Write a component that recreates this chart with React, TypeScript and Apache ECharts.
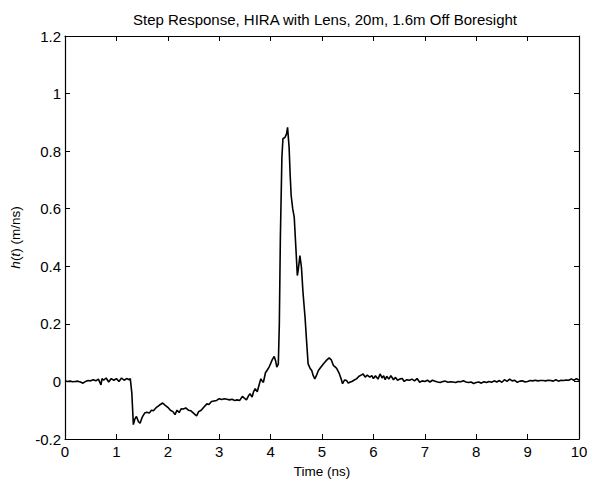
import React, { useEffect, useRef } from "react";
import * as echarts from "echarts";

const title = "Step Response, HIRA with Lens, 20m, 1.6m Off Boresight";
const xName = "Time (ns)";

const timeNs: number[] = [
  0, 0.05, 0.1, 0.15, 0.2, 0.25, 0.3, 0.35, 0.4, 0.45, 0.5, 0.55, 0.6, 0.65, 0.7, 0.72, 0.75, 0.8, 0.85, 0.9, 0.95,
  1.0, 1.05, 1.1, 1.15, 1.2, 1.25, 1.27, 1.3, 1.33, 1.36, 1.39, 1.43, 1.46, 1.5, 1.55, 1.59, 1.64, 1.68, 1.72, 1.78,
  1.84, 1.9, 1.95, 2.0, 2.05, 2.1, 2.14, 2.18, 2.22, 2.26, 2.3, 2.35, 2.4, 2.45, 2.5, 2.56, 2.6, 2.65, 2.7, 2.76,
  2.8, 2.85, 2.9, 2.95, 3.0, 3.05, 3.1, 3.15, 3.2, 3.25, 3.3, 3.35, 3.4, 3.45, 3.5, 3.53, 3.57, 3.6, 3.64, 3.67,
  3.7, 3.74, 3.78, 3.81, 3.84, 3.86, 3.9, 3.93, 3.97, 4.0, 4.03, 4.07, 4.1, 4.12, 4.15, 4.17, 4.19, 4.22, 4.24,
  4.28, 4.31, 4.33, 4.36, 4.38, 4.4, 4.43, 4.46, 4.49, 4.52, 4.54, 4.57, 4.6, 4.63, 4.67, 4.7, 4.73, 4.77, 4.8,
  4.83, 4.86, 4.89, 4.93, 4.98, 5.03, 5.08, 5.14, 5.18, 5.22, 5.26, 5.29, 5.33, 5.37, 5.4, 5.44, 5.48, 5.51, 5.54,
  5.58, 5.62, 5.67, 5.72, 5.76, 5.8, 5.84, 5.88, 5.93, 5.97, 6.0, 6.04, 6.09, 6.13, 6.17, 6.2, 6.23, 6.26, 6.3,
  6.34, 6.39, 6.43, 6.47, 6.52, 6.56, 6.6, 6.65, 6.7, 6.75, 6.8, 6.85, 6.9, 6.95, 7.0, 7.05, 7.1, 7.15, 7.2, 7.25,
  7.3, 7.35, 7.4, 7.45, 7.5, 7.55, 7.6, 7.65, 7.7, 7.75, 7.8, 7.85, 7.9, 7.95, 8.0, 8.05, 8.1, 8.15, 8.2, 8.25,
  8.3, 8.35, 8.4, 8.45, 8.5, 8.55, 8.6, 8.65, 8.7, 8.75, 8.8, 8.85, 8.9, 8.95, 9.0, 9.05, 9.1, 9.15, 9.2, 9.25,
  9.3, 9.35, 9.4, 9.45, 9.5, 9.55, 9.6, 9.65, 9.7, 9.75, 9.8, 9.85, 9.9, 9.95, 10.0,
];

const hValues: number[] = [
  0.002, 0.0, 0.001, -0.001, 0.0, 0.001, -0.002, -0.006, 0.0, 0.003, 0.002, 0.006, 0.002, 0.008, -0.012, 0.01, 0.004, 0.012, -0.002, 0.01, 0.004,
  0.01, 0.0, 0.012, 0.004, 0.01, 0.006, 0.01, -0.04, -0.15, -0.13, -0.122, -0.14, -0.145, -0.125, -0.11, -0.107, -0.11, -0.1, -0.102, -0.09,
  -0.082, -0.075, -0.083, -0.09, -0.1, -0.105, -0.115, -0.1, -0.108, -0.095, -0.096, -0.092, -0.1, -0.102, -0.11, -0.12, -0.105, -0.1, -0.09, -0.078,
  -0.08, -0.07, -0.068, -0.066, -0.06, -0.063, -0.06, -0.062, -0.064, -0.062, -0.066, -0.064, -0.066, -0.052, -0.06, -0.064, -0.05, -0.043, -0.054, -0.035,
  -0.025, -0.036, -0.01, 0.009, 0.0, -0.003, 0.03, 0.038, 0.05, 0.062, 0.075, 0.087, 0.07, 0.05, 0.06, 0.2, 0.5, 0.78, 0.843,
  0.848, 0.86, 0.883, 0.813, 0.72, 0.646, 0.6, 0.57, 0.47, 0.368, 0.39, 0.4375, 0.397, 0.31, 0.223, 0.14, 0.061, 0.045, 0.038,
  0.02, 0.009, 0.02, 0.038, 0.05, 0.061, 0.072, 0.082, 0.075, 0.056, 0.05, 0.044, 0.03, 0.01, -0.008, 0.005, 0.003, -0.006, -0.003,
  0.0, 0.004, 0.009, 0.018, 0.022, 0.026, 0.015, 0.022, 0.015, 0.02, 0.01, 0.02, 0.008, 0.026, 0.012, 0.02, 0.006, 0.018, 0.008,
  0.02, 0.006, 0.014, 0.004, 0.009, 0.01, 0.0, 0.006, 0.004, 0.008, 0.002, 0.01, -0.003, 0.002, 0.0, 0.004, -0.002, 0.004, 0.001, -0.002,
  -0.004, 0.0, 0.001, -0.003, -0.001, -0.002, -0.004, 0.0, -0.001, 0.002, -0.002, -0.004, -0.002, -0.007, -0.004, -0.002, -0.006, -0.001, -0.004, 0.0,
  -0.003, 0.002, -0.002, 0.003, -0.003, 0.006, 0.0, 0.008, 0.002, 0.004, -0.003, 0.001, 0.002, -0.002, 0.0, 0.003, 0.002, 0.004, 0.002, 0.003,
  0.003, 0.002, 0.004, 0.003, 0.001, 0.006, 0.001, 0.004, 0.003, 0.005, 0.004, 0.009, 0.004, 0.01, 0.004,
];

const font = "Liberation Sans, Arial, sans-serif";

export default function App() {
  const ref = useRef<HTMLDivElement>(null);
  useEffect(() => {
    if (!ref.current) return;
    const chart = echarts.init(ref.current, null, { renderer: "svg" });
    const data = timeNs.map((t, i) => [t, hValues[i]]);
    const tickStyle = { show: true, inside: true, length: 5, lineStyle: { color: "#000", width: 1 } };
    const lineStyle = { show: true, onZero: false, lineStyle: { color: "#000", width: 1.2 } };
    chart.setOption({
      animation: false,
      backgroundColor: "#fff",
      title: {
        text: title,
        left: 320,
        textAlign: "center",
        top: 7,
        textStyle: { fontFamily: font, fontSize: 15, fontWeight: "normal", color: "#000" },
      },
      grid: { left: 65, right: 17, top: 36, bottom: 44 },
      xAxis: [
        {
          type: "value",
          min: 0,
          max: 10,
          interval: 1,
          position: "bottom",
          axisLine: lineStyle,
          axisTick: tickStyle,
          splitLine: { show: false },
          axisLabel: { color: "#000", fontFamily: font, fontSize: 15, margin: 5 },
          name: xName,
          nameLocation: "middle",
          nameGap: 25,
          nameTextStyle: { color: "#000", fontFamily: font, fontSize: 13.5 },
        },
        {
          type: "value",
          min: 0,
          max: 10,
          interval: 1,
          position: "top",
          axisLine: lineStyle,
          axisTick: tickStyle,
          splitLine: { show: false },
          axisLabel: { show: false },
        },
      ],
      yAxis: [
        {
          type: "value",
          min: -0.2,
          max: 1.2,
          interval: 0.2,
          position: "left",
          axisLine: lineStyle,
          axisTick: tickStyle,
          splitLine: { show: false },
          axisLabel: { color: "#000", fontFamily: font, fontSize: 15, margin: 4 },
          name: "{i|h}({i|t}) (m/ns)",
          nameLocation: "middle",
          nameGap: 43,
          nameRotate: 90,
          nameTextStyle: {
            color: "#000",
            fontFamily: font,
            fontSize: 13.5,
            rich: { i: { fontStyle: "italic", fontFamily: font, fontSize: 13.5, color: "#000" } },
          },
        },
        {
          type: "value",
          min: -0.2,
          max: 1.2,
          interval: 0.2,
          position: "right",
          axisLine: lineStyle,
          axisTick: tickStyle,
          splitLine: { show: false },
          axisLabel: { show: false },
        },
      ],
      series: [
        {
          type: "line",
          data,
          xAxisIndex: 0,
          yAxisIndex: 0,
          showSymbol: false,
          symbol: "none",
          lineStyle: { color: "#000", width: 1.6 },
        },
      ],
    });
    return () => chart.dispose();
  }, []);
  return <div ref={ref} style={{ width: 596, height: 483, position: "absolute", left: 0, top: 0 }} />;
}
